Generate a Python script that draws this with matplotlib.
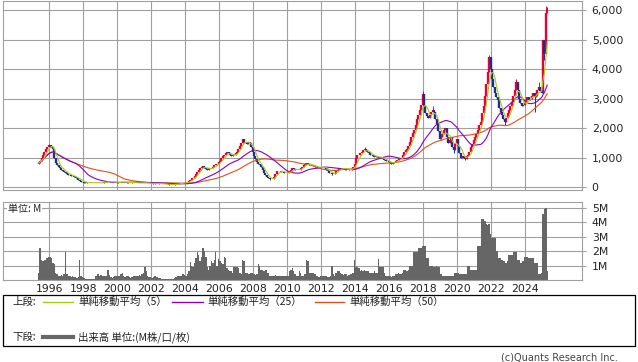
import numpy as np
import pandas as pd
import matplotlib
matplotlib.use("Agg")
import matplotlib.pyplot as plt
from matplotlib.lines import Line2D
from matplotlib.patches import Rectangle

plt.rcParams['font.family'] = ['DejaVu Sans']

# ---------------- data (monthly) ----------------
START_YEAR, START_MONTH = 1995, 5
FIRST_OPEN = 780

close_1995 = [820, 900, 980, 1080, 1180, 1280, 1380, 1430]
close_1996 = [1420, 1380, 1300, 1000, 820, 760, 700, 650, 600, 560, 520, 480]
close_1997 = [450, 430, 410, 390, 370, 350, 330, 300, 260, 220, 190, 170]
close_1998 = [160, 165, 160, 155, 150, 155, 160, 150, 140, 145, 150, 155]
close_1999 = [150, 160, 170, 185, 200, 210, 195, 185, 175, 170, 165, 160]
close_2000 = [170, 175, 185, 180, 170, 165, 160, 165, 170, 165, 160, 155]
close_2001 = [150, 150, 145, 140, 150, 160, 155, 150, 145, 140, 135, 130]
close_2002 = [130, 125, 130, 135, 130, 125, 120, 115, 110, 105, 100, 100]
close_2003 = [95, 90, 90, 95, 100, 110, 120, 130, 140, 150, 160, 150]
close_2004 = [160, 180, 220, 260, 300, 330, 380, 450, 520, 600, 660, 700]
close_2005 = [720, 650, 620, 600, 640, 660, 650, 700, 740, 780, 800, 850]
close_2006 = [900, 980, 1050, 1100, 1150, 1200, 1150, 1100, 1050, 1080, 1100, 1150]
close_2007 = [1200, 1300, 1400, 1500, 1620, 1550, 1500, 1450, 1550, 1500, 1350, 1200]
close_2008 = [1050, 950, 850, 800, 750, 700, 600, 500, 420, 350, 300, 280]
close_2009 = [270, 280, 350, 450, 550, 560, 540, 530, 520, 500, 490, 480]
close_2010 = [470, 520, 600, 640, 620, 600, 580, 590, 600, 650, 700, 760]
close_2011 = [800, 820, 780, 760, 740, 750, 720, 700, 680, 660, 650, 700]
close_2012 = [700, 680, 650, 600, 550, 500, 470, 440, 460, 500, 550, 600]
close_2013 = [640, 660, 650, 620, 600, 620, 610, 590, 600, 620, 700, 780]
close_2014 = [1000, 1100, 1080, 1150, 1200, 1250, 1300, 1250, 1200, 1150, 1100, 1080]
close_2015 = [1050, 1020, 1050, 1030, 1000, 1020, 980, 950, 920, 900, 880, 850]
close_2016 = [820, 800, 830, 870, 900, 920, 950, 980, 1000, 1100, 1200, 1250]
close_2017 = [1300, 1400, 1550, 1700, 1850, 1950, 2100, 2300, 2450, 2600, 2800, 3150]
close_2018 = [2750, 2500, 2400, 2350, 2450, 2550, 2600, 2550, 2300, 2150, 1900, 1650]
close_2019 = [1700, 1800, 1950, 2000, 1700, 1500, 1600, 1700, 1350, 1260, 1500, 1650]
close_2020 = [1400, 1150, 1000, 1050, 1000, 950, 1050, 1100, 1200, 1350, 1450, 1600]
close_2021 = [1700, 1800, 1950, 2100, 2200, 2500, 2750, 3100, 3500, 3900, 4400, 4000]
close_2022 = [3650, 3400, 3200, 3050, 2950, 2700, 2550, 2450, 2300, 2200, 2350, 2500]
close_2023 = [2600, 2750, 2900, 3100, 3300, 3550, 3300, 3000, 2850, 2750, 2800, 2900]
close_2024 = [2950, 3050, 2950, 3000, 3100, 3200, 3050, 3100, 3300, 3400, 3250, 3200]
close_2025 = [5000, 4500, 5900, 5950]

# notable wick extremes (year, month) -> value
high_marks = {(1995, 12): 1470, (2007, 5): 1650, (2014, 7): 1350, (2017, 12): 3250,
              (2018, 7): 2750, (2021, 11): 4480, (2023, 6): 3650, (2024, 10): 3550,
              (2025, 3): 6150, (2025, 4): 6100}
low_marks = {(2020, 6): 920, (2024, 7): 2550, (2008, 12): 250, (2012, 8): 420,
             (2019, 10): 1150, (2022, 10): 2100, (2025, 2): 4300}

vol_1995 = [0.5, 2.2, 1.4, 1.3, 1.35, 1.4, 1.5, 1.6]
vol_1996 = [1.6, 1.5, 1.2, 1.1, 0.5, 0.4, 0.3, 0.3, 0.35, 0.3, 0.4, 1.95]
vol_1997 = [0.4, 0.3, 0.25, 0.2, 0.25, 0.2, 0.2, 0.15, 0.2, 1.35, 0.3, 0.2]
vol_1998 = [0.15, 0.1, 0.1, 0.08, 0.08, 0.08, 0.1, 0.1, 0.25, 0.3, 0.4, 0.3]
vol_1999 = [0.35, 0.25, 0.3, 0.3, 0.3, 0.7, 0.35, 0.2, 0.15, 0.2, 0.3, 0.25]
vol_2000 = [0.25, 0.3, 0.4, 0.45, 0.3, 0.2, 0.25, 0.3, 0.2, 0.15, 0.2, 0.3]
vol_2001 = [0.3, 0.25, 0.3, 0.35, 0.3, 0.4, 0.5, 0.9, 0.6, 0.3, 0.2, 0.2]
vol_2002 = [0.15, 0.2, 0.25, 0.2, 0.2, 0.15, 0.15, 0.1, 0.1, 0.1, 0.1, 0.1]
vol_2003 = [0.1, 0.1, 0.1, 0.1, 0.15, 0.2, 0.25, 0.3, 0.3, 0.25, 0.4, 0.35]
vol_2004 = [0.3, 0.4, 0.6, 1.25, 1.0, 0.9, 1.2, 1.5, 1.95, 1.7, 1.3, 1.6]
vol_2005 = [2.2, 2.0, 1.6, 0.9, 0.7, 1.0, 1.3, 1.2, 1.4, 1.95, 1.0, 1.45]
vol_2006 = [1.3, 1.2, 1.1, 1.6, 1.5, 0.8, 0.7, 0.6, 0.6, 0.5, 0.9, 0.9]
vol_2007 = [0.9, 0.8, 0.5, 0.4, 1.35, 1.3, 0.5, 0.5, 0.4, 0.4, 0.5, 0.45]
vol_2008 = [0.4, 0.35, 0.4, 1.1, 1.0, 0.7, 0.7, 0.65, 0.7, 0.7, 0.5, 0.3]
vol_2009 = [0.3, 0.3, 0.3, 0.35, 0.3, 0.3, 0.3, 0.3, 0.25, 0.3, 0.3, 0.3]
vol_2010 = [0.3, 0.6, 0.7, 0.8, 0.6, 0.4, 0.3, 0.3, 0.6, 0.5, 0.3, 0.3]
vol_2011 = [0.4, 1.35, 1.3, 0.5, 0.5, 0.45, 0.5, 0.4, 0.3, 0.3, 0.2, 0.3]
vol_2012 = [0.3, 0.25, 0.3, 0.3, 0.2, 0.2, 0.3, 1.0, 0.4, 0.3, 0.5, 0.6]
vol_2013 = [0.6, 0.5, 0.4, 0.35, 0.4, 0.4, 0.3, 0.35, 0.4, 0.4, 0.5, 1.4]
vol_2014 = [0.9, 0.9, 0.8, 0.6, 0.7, 0.65, 0.7, 0.6, 0.65, 0.6, 0.5, 0.5]
vol_2015 = [0.5, 0.6, 0.5, 0.5, 1.45, 0.9, 0.9, 0.9, 0.5, 0.3, 0.25, 0.25]
vol_2016 = [0.25, 0.2, 0.25, 0.3, 0.4, 0.4, 0.45, 0.4, 0.4, 0.5, 0.7, 0.7]
vol_2017 = [0.6, 0.7, 1.0, 1.0, 1.0, 1.95, 1.95, 1.95, 2.2, 2.2, 2.2, 2.35]
vol_2018 = [2.35, 2.35, 1.5, 1.5, 1.0, 1.0, 1.0, 0.9, 0.9, 0.95, 0.9, 0.9]
vol_2019 = [0.4, 0.3, 0.3, 0.3, 0.3, 0.3, 0.3, 0.3, 0.3, 0.3, 0.5, 0.5]
vol_2020 = [0.5, 0.4, 0.4, 0.4, 0.4, 0.4, 0.4, 1.0, 1.0, 0.7, 0.7, 0.7]
vol_2021 = [0.7, 0.7, 2.35, 2.35, 2.35, 4.2, 4.2, 4.1, 3.9, 3.8, 3.9, 3.2]
vol_2022 = [2.9, 2.9, 2.9, 2.0, 2.0, 1.5, 1.5, 1.4, 1.3, 1.3, 1.2, 1.3]
vol_2023 = [1.7, 1.7, 1.7, 1.95, 1.95, 1.95, 1.4, 1.4, 1.2, 1.2, 1.3, 1.6]
vol_2024 = [1.6, 1.6, 1.5, 1.5, 1.5, 1.5, 1.2, 1.2, 1.2, 0.4, 0.4, 0.5]
vol_2025 = [4.6, 4.9, 5.0, 0.6]

year_ticks = list(range(1996, 2025, 2))
price_ticks = [0, 1000, 2000, 3000, 4000, 5000, 6000]
vol_ticks = [1, 2, 3, 4, 5]

closes = np.array(close_1995 + close_1996 + close_1997 + close_1998 + close_1999 +
                  close_2000 + close_2001 + close_2002 + close_2003 + close_2004 +
                  close_2005 + close_2006 + close_2007 + close_2008 + close_2009 +
                  close_2010 + close_2011 + close_2012 + close_2013 + close_2014 +
                  close_2015 + close_2016 + close_2017 + close_2018 + close_2019 +
                  close_2020 + close_2021 + close_2022 + close_2023 + close_2024 +
                  close_2025, dtype=float)
volumes = np.array(vol_1995 + vol_1996 + vol_1997 + vol_1998 + vol_1999 +
                   vol_2000 + vol_2001 + vol_2002 + vol_2003 + vol_2004 +
                   vol_2005 + vol_2006 + vol_2007 + vol_2008 + vol_2009 +
                   vol_2010 + vol_2011 + vol_2012 + vol_2013 + vol_2014 +
                   vol_2015 + vol_2016 + vol_2017 + vol_2018 + vol_2019 +
                   vol_2020 + vol_2021 + vol_2022 + vol_2023 + vol_2024 +
                   vol_2025, dtype=float)

n = len(closes)
idx = np.arange(n)
years = START_YEAR + (START_MONTH - 1 + idx) // 12
months = (START_MONTH - 1 + idx) % 12 + 1
t = START_YEAR + (START_MONTH - 1) / 12 + idx / 12 + 1 / 24

opens = np.concatenate([[FIRST_OPEN], closes[:-1]])
highs = np.maximum(opens, closes)
lows = np.minimum(opens, closes)
for i in range(n):
    key = (int(years[i]), int(months[i]))
    if key in high_marks:
        highs[i] = max(highs[i], high_marks[key])
    if key in low_marks:
        lows[i] = min(lows[i], low_marks[key])

s = pd.Series(closes)
ma5 = s.rolling(5, min_periods=1).mean().values
ma25 = s.rolling(25, min_periods=1).mean().values
ma50 = s.rolling(50, min_periods=1).mean().values

# ---------------- figure ----------------
W, H = 638, 362
fig = plt.figure(figsize=(W / 100, H / 100), dpi=100)


def fx(px):
    return px / W


def fy(py):
    return 1 - py / H


GRID = '#a0a0a0'
RED = '#e5003a'
BLUE = '#1c2f8f'
C5 = '#a8cc10'
C25 = '#8a00c8'
C50 = '#e0501e'
VOLC = '#666666'
TXT = '#222222'

x0, x1 = 3, 582
ax1 = fig.add_axes([fx(x0), fy(190), fx(x1) - fx(x0), fy(1) - fy(190)])
ax2 = fig.add_axes([fx(x0), fy(280), fx(x1) - fx(x0), fy(201.7) - fy(280)])

xmin = 1996 + (x0 - 49.3) / 17
xmax = 1996 + (x1 - 49.3) / 17

for ax in (ax1, ax2):
    ax.set_xlim(xmin, xmax)
    ax.set_xticks(year_ticks)
    ax.grid(True, color=GRID, lw=0.8)
    ax.set_axisbelow(True)
    for sp in ax.spines.values():
        sp.set_color(GRID)
        sp.set_linewidth(0.8)
    ax.yaxis.tick_right()
    ax.tick_params(axis='y', length=3, color=GRID, pad=4, labelsize=7.8, labelcolor=TXT)

# candles
up = closes >= opens
dn = ~up
ax1.vlines(t[up], lows[up], highs[up], color=RED, lw=0.7, zorder=2)
ax1.vlines(t[dn], lows[dn], highs[dn], color=BLUE, lw=0.7, zorder=2)
ax1.vlines(t[up], opens[up], closes[up], color=RED, lw=1.7, zorder=2)
ax1.vlines(t[dn], closes[dn], opens[dn], color=BLUE, lw=1.7, zorder=2)

ax1.plot(t, ma50, color=C50, lw=0.8, zorder=3)
ax1.plot(t, ma25, color=C25, lw=0.8, zorder=3)
ax1.plot(t, ma5, color=C5, lw=0.8, zorder=4)

ax1.set_ylim(-91, 6305)
ax1.set_yticks(price_ticks)
ax1.set_yticklabels([f"{v:,}" for v in price_ticks])
ax1.tick_params(axis='x', length=0, labelbottom=False)

# volume
ax2.bar(t, volumes, width=1 / 12, color=VOLC, edgecolor='none', zorder=2)
ax2.set_ylim(0, 5.42)
ax2.set_yticks(vol_ticks)
ax2.set_yticklabels([f"{v}M" for v in vol_ticks])
ax2.tick_params(axis='x', length=0, pad=3, labelsize=7.8, labelcolor=TXT)
ax2.set_xticklabels([str(y) for y in year_ticks])

JP = ['Noto Sans CJK JP', 'DejaVu Sans']
fig.text(fx(8), fy(209), '単位: M', ha='left', va='center', fontsize=7.2,
         family=JP, color=TXT,
         bbox=dict(facecolor='white', edgecolor='none', pad=0.8))

# legend box
fig.add_artist(Rectangle((fx(3), fy(346)), fx(635) - fx(3), fy(295) - fy(346),
                         transform=fig.transFigure, fill=False, ec='black', lw=0.9))
ly1, ly2 = 302, 337
fig.text(fx(12), fy(ly1), '上段:', ha='left', va='center', fontsize=7.5, family=JP, color=TXT)
legend_items = [(43, 73, 78, C5, '単純移動平均（5）'),
                (172, 203, 207, C25, '単純移動平均（25）'),
                (315, 344, 349, C50, '単純移動平均（50）')]
for a, b, tx, col, lab in legend_items:
    fig.add_artist(Line2D([fx(a), fx(b)], [fy(ly1), fy(ly1)], color=col, lw=1.0,
                          transform=fig.transFigure))
    fig.text(fx(tx), fy(ly1), lab, ha='left', va='center', fontsize=7.5, family=JP, color=TXT)

fig.text(fx(12), fy(ly2), '下段:', ha='left', va='center', fontsize=7.5, family=JP, color=TXT)
fig.add_artist(Line2D([fx(43), fx(73)], [fy(ly2), fy(ly2)], color=VOLC, lw=3.0,
                      transform=fig.transFigure))
fig.text(fx(78), fy(ly2), '出来高 単位:(M株/口/枚)', ha='left', va='center', fontsize=7.5,
         family=JP, color=TXT)

fig.text(fx(618), fy(357), '(c)Quants Research Inc.', ha='right', va='center',
         fontsize=7, color='#444444')

fig.savefig('out.png', dpi=100)
